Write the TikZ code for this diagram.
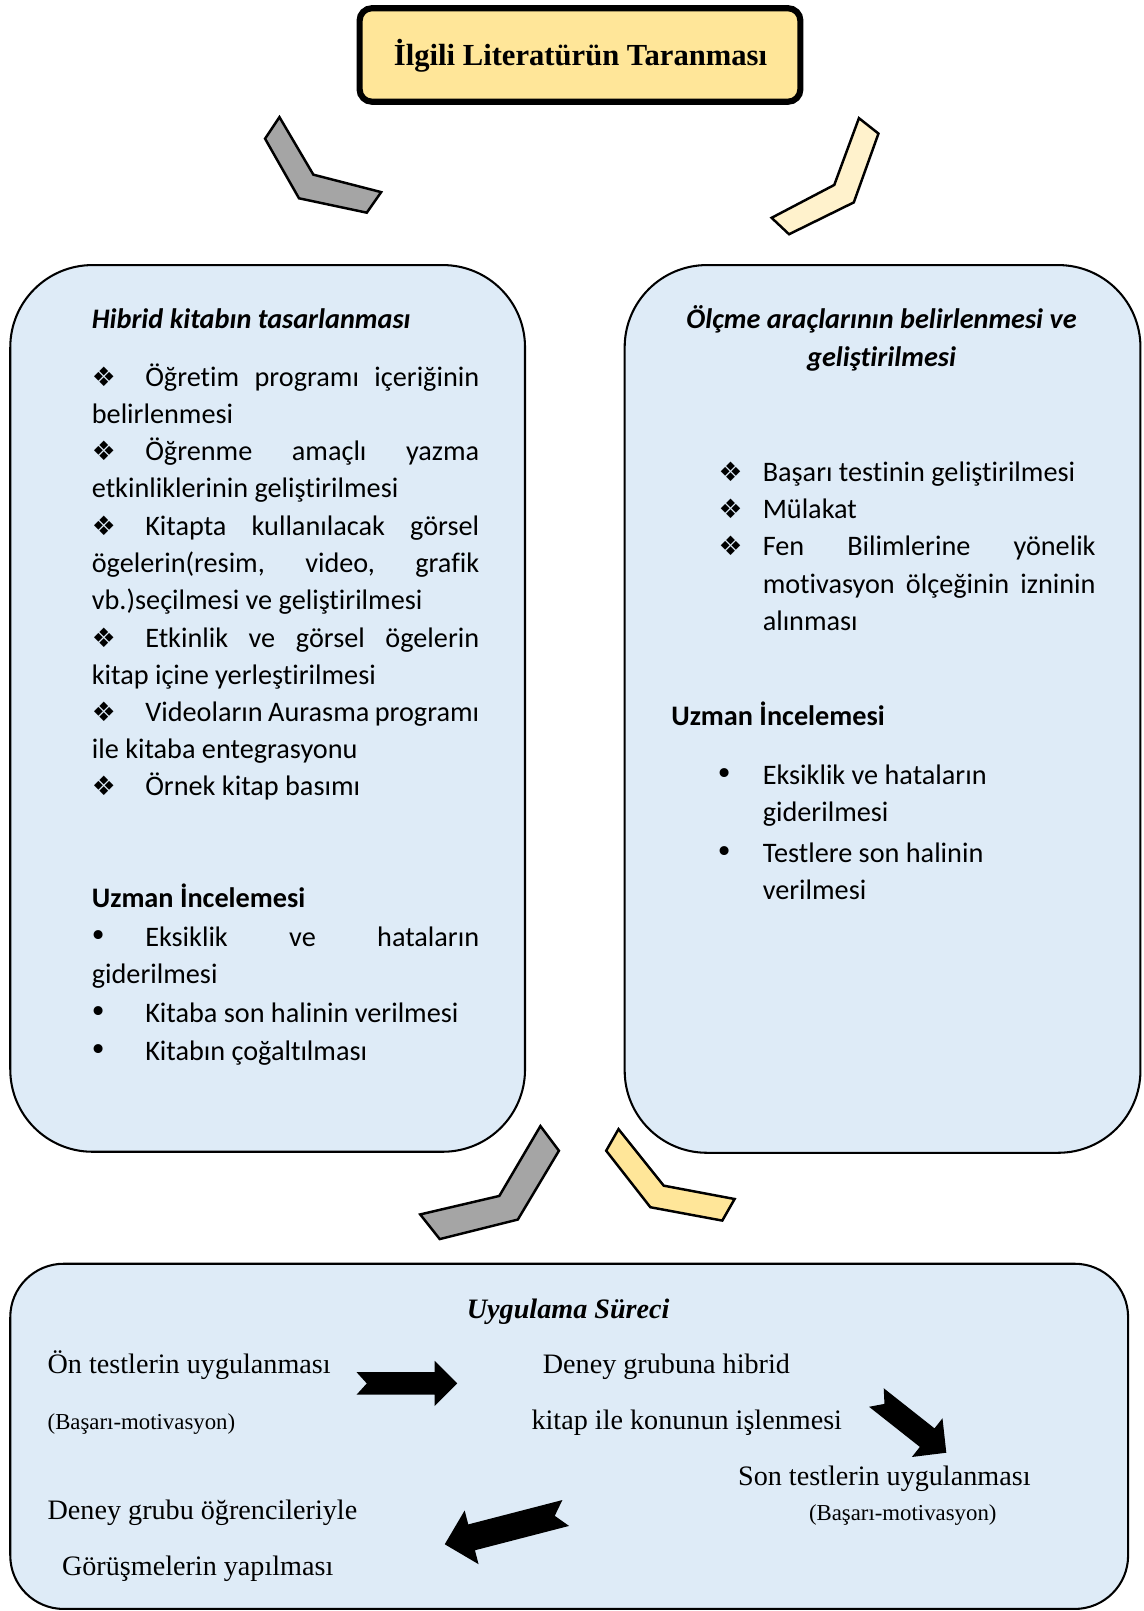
\documentclass[tikz,border=0pt]{standalone}
\usepackage{fontspec}
\setmainfont{Liberation Serif}
\newfontfamily\carl[Ligatures=NoCommon]{Carlito}
\newfontfamily\djv{DejaVu Sans}
\definecolor{boxblue}{HTML}{DEEBF7}
\definecolor{gold}{HTML}{FFE699}
\definecolor{paleyellow}{HTML}{FFF2CC}
\definecolor{chevgray}{HTML}{A5A5A5}
\newcommand\cb{\carl\fontsize{13.75}{16}\selectfont}
\newcommand\tb{\fontsize{13.7}{16}\selectfont}
\newcommand\tsm{\fontsize{11.1}{13}\selectfont}
\newcommand\jl[2]{\makebox[#1pt][s]{#2}}
\begin{document}
\begin{tikzpicture}[x=0.5pt,y=-0.5pt,
  chev/.style={draw=black, line width=1.2pt, line join=miter},
  bluebox/.style={draw=black, line width=1pt, fill=boxblue, rounded corners=40pt, inner sep=0},
  cbody/.style={anchor=base west, inner sep=0, font=\cb},
  chead/.style={anchor=base west, inner sep=0, font=\cb\bfseries},
  bul/.style={anchor=base west, inner sep=0, font=\djv\fontsize{13}{13}\selectfont},
  dot/.style={anchor=base west, inner sep=0, font=\djv\fontsize{15}{15}\selectfont},
  tbody/.style={anchor=base west, inner sep=0, font=\tb},
  tsmall/.style={anchor=base west, inner sep=0, font=\tsm},
  blockarrow/.style={fill=black}
]
\useasboundingbox (0,0) rectangle (1113,1568);

% title box
\node (title) [draw=black, line width=3pt, fill=gold, rounded corners=6pt,
  minimum width=214.5pt, minimum height=45.5pt, inner sep=0] at (564.5,53.5) {};
\node (titletext) [anchor=base, inner sep=0, font=\fontsize{14.9}{17}\selectfont\bfseries] at (565,64) {İlgili Literatürün Taranması};

% top chevrons
\draw[chev, fill=chevgray] (272,114) -- (305,170) -- (371,187) -- (357,207) -- (291,193) -- (258,135) -- cycle;
\draw[chev, fill=paleyellow] (836,115) -- (855,130) -- (831,197) -- (768,228) -- (751,212) -- (812,180) -- cycle;

% two big boxes
\node (leftbox) [bluebox, minimum width=250.5pt, minimum height=431.5pt] at (260.5,689.5) {};
\node (rightbox) [bluebox, minimum width=251pt, minimum height=432pt] at (859,690) {};

% left box text
\node (lh) [anchor=base west, inner sep=0, font=\cb\bfseries\itshape] at (89,320) {Hibrid kitabın tasarlanması};
\node (l1b) [bul] at (89,376) {❖};
\node (l1a) [cbody] at (141,376) {\jl{162.5}{Öğretim programı içeriğinin}};
\node (l1c) [cbody] at (89,412) {belirlenmesi};
\node (l2b) [bul] at (89,448) {❖};
\node (l2a) [cbody] at (141,448) {\jl{162.5}{Öğrenme amaçlı yazma}};
\node (l2c) [cbody] at (89,484) {etkinliklerinin geliştirilmesi};
\node (l3b) [bul] at (89,521) {❖};
\node (l3a) [cbody] at (141,521) {\jl{162.5}{Kitapta kullanılacak görsel}};
\node (l3c) [cbody] at (89,557) {\jl{188.5}{ögelerin(resim, video, grafik}};
\node (l3d) [cbody] at (89,593) {vb.)seçilmesi ve geliştirilmesi};
\node (l4b) [bul] at (89,630) {❖};
\node (l4a) [cbody] at (141,630) {\jl{162.5}{Etkinlik ve görsel ögelerin}};
\node (l4c) [cbody] at (89,666) {kitap içine yerleştirilmesi};
\node (l5b) [bul] at (89,702) {❖};
\node (l5a) [cbody] at (141,702) {\jl{162.5}{Videoların Aurasma programı}};
\node (l5c) [cbody] at (89,738) {ile kitaba entegrasyonu};
\node (l6b) [bul] at (89,774) {❖};
\node (l6a) [cbody] at (141,774) {Örnek kitap basımı};

\node (lu) [chead] at (89,883) {Uzman İncelemesi};
\node (lu1b) [dot] at (87,921) {•};
\node (lu1a) [cbody] at (141,921) {\jl{162.5}{Eksiklik ve hataların}};
\node (lu1c) [cbody] at (89,957) {giderilmesi};
\node (lu2b) [dot] at (87,995) {•};
\node (lu2a) [cbody] at (141,995) {Kitaba son halinin verilmesi};
\node (lu3b) [dot] at (87,1032) {•};
\node (lu3a) [cbody] at (141,1032) {Kitabın çoğaltılması};

% right box text
\node (rh1) [anchor=base, inner sep=0, font=\cb\bfseries\itshape] at (858,320) {Ölçme araçlarının belirlenmesi ve};
\node (rh2) [anchor=base, inner sep=0, font=\cb\bfseries\itshape] at (858,357) {geliştirilmesi};
\node (r1b) [bul] at (699,469) {❖};
\node (r1a) [cbody] at (742,469) {Başarı testinin geliştirilmesi};
\node (r2b) [bul] at (699,505) {❖};
\node (r2a) [cbody] at (742,505) {Mülakat};
\node (r3b) [bul] at (699,541) {❖};
\node (r3a) [cbody] at (742,541) {\jl{162}{Fen Bilimlerine yönelik}};
\node (r3c) [cbody] at (742,578) {\jl{162}{motivasyon ölçeğinin izninin}};
\node (r3d) [cbody] at (742,614) {alınması};
\node (ru) [chead] at (653,706) {Uzman İncelemesi};
\node (ru1b) [dot] at (696,764) {•};
\node (ru1a) [cbody] at (742,764) {Eksiklik ve hataların};
\node (ru1c) [cbody] at (742,800) {giderilmesi};
\node (ru2b) [dot] at (696,839) {•};
\node (ru2a) [cbody] at (742,839) {Testlere son halinin};
\node (ru2c) [cbody] at (742,875) {verilmesi};

% middle chevrons
\draw[chev, fill=chevgray] (526,1096) -- (544,1120) -- (504,1187) -- (428,1206) -- (409,1182) -- (486,1164) -- cycle;
\draw[chev, fill=gold] (602,1099) -- (646,1154) -- (715,1167) -- (703,1188) -- (633,1175) -- (590,1120) -- cycle;

% bottom box
\node (bottombox) [draw=black, line width=1pt, fill=boxblue, rounded corners=26pt, inner sep=0,
  minimum width=544pt, minimum height=168pt] at (554,1398) {};
\node (bh) [anchor=base, inner sep=0, font=\tb\bfseries\itshape] at (553,1283) {Uygulama Süreci};
\node (b1) [tbody] at (46,1337) {Ön testlerin uygulanması};
\node (b1s) [tsmall] at (46,1391) {(Başarı-motivasyon)};
\node (b2) [tbody] at (528,1337) {Deney grubuna hibrid};
\node (b2b) [tbody] at (517,1391) {kitap ile konunun işlenmesi};
\node (b3) [tbody] at (718,1446) {Son testlerin uygulanması};
\node (b3s) [tsmall] at (787,1480) {(Başarı-motivasyon)};
\node (b4) [tbody] at (46,1479) {Deney grubu öğrencileriyle};
\node (b4b) [tbody] at (60,1533) {Görüşmelerin yapılması};

% block arrows
\fill[blockarrow, shift={(347,1346.5)}] (0,-11) -- (76,-11) -- (76,-22) -- (98,0) -- (76,22) -- (76,11) -- (0,11) -- (10,0) -- cycle;
\fill[blockarrow, shift={(853,1360.2)}, rotate=-38.3] (0,-11.5) -- (63,-11.5) -- (63,-24) -- (86.7,0) -- (63,24) -- (63,11.5) -- (0,11.5) -- (10,0) -- cycle;
\fill[blockarrow, shift={(550.6,1472.6)}, rotate=194.5] (0,-13) -- (94.6,-13) -- (94.6,-27) -- (121.6,0) -- (94.6,27) -- (94.6,13) -- (0,13) -- (11,0) -- cycle;
\end{tikzpicture}
\end{document}
